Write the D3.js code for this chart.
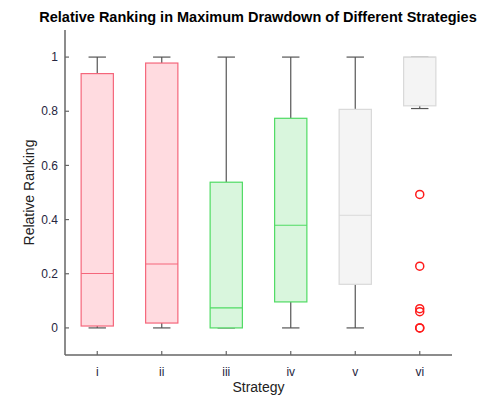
<!DOCTYPE html>
<html>
<head>
<meta charset="utf-8">
<script src="https://cdn.jsdelivr.net/npm/d3@7"></script>
<style>
  body { margin: 0; background: #fff; }
  svg { font-family: "Liberation Sans", Arial, sans-serif; }
</style>
</head>
<body>
<svg id="chart" width="499" height="399"></svg>
<script>
const strategies = ["i", "ii", "iii", "iv", "v", "vi"];
const whiskerLow = [0, 0, 0, 0, 0, 0.81];
const q1 = [0.007, 0.018, 0, 0.096, 0.161, 0.82];
const median = [0.201, 0.236, 0.074, 0.379, 0.416, 1];
const q3 = [0.939, 0.978, 0.538, 0.774, 0.807, 1];
const whiskerHigh = [1, 1, 1, 1, 1, 1];
const outliers = [[], [], [], [], [], [0.493, 0.228, 0.071, 0.06, 0, 0]];
const yTicks = [0, 0.2, 0.4, 0.6, 0.8, 1];

const palette = [
  { fill: "#ffdbe0", stroke: "#f5667b" },
  { fill: "#ffdbe0", stroke: "#f5667b" },
  { fill: "#d9f6dd", stroke: "#4fdb63" },
  { fill: "#d9f6dd", stroke: "#4fdb63" },
  { fill: "#f4f4f4", stroke: "#d9d9d9" },
  { fill: "#f4f4f4", stroke: "#d9d9d9" }
];

const svg = d3.select("#chart");
const m = { left: 65, right: 452, top: 30, bottom: 355 };

const x = d3.scaleBand().domain(strategies).range([m.left, m.right]).padding(0);
const y = d3.scaleLinear().domain([-0.1, 1.1]).range([m.bottom, m.top]);

const boxW = x.bandwidth() * 0.5;
const capW = x.bandwidth() * 0.27;

const data = strategies.map((s, i) => ({
  s, lo: whiskerLow[i], q1: q1[i], med: median[i], q3: q3[i], hi: whiskerHigh[i],
  out: outliers[i], col: palette[i]
}));

const groups = svg.append("g").selectAll(".box").data(data).enter().append("g")
  .attr("transform", d => `translate(${x(d.s) + x.bandwidth() / 2},0)`);

// whiskers
groups.append("line")
  .attr("x1", 0).attr("x2", 0)
  .attr("y1", d => y(d.hi)).attr("y2", d => y(d.q3))
  .attr("stroke", "#555").attr("stroke-width", 1.2);
groups.append("line")
  .attr("x1", 0).attr("x2", 0)
  .attr("y1", d => y(d.q1)).attr("y2", d => y(d.lo))
  .attr("stroke", "#555").attr("stroke-width", 1.2);
groups.append("line")
  .attr("x1", -capW / 2).attr("x2", capW / 2)
  .attr("y1", d => y(d.hi)).attr("y2", d => y(d.hi))
  .attr("stroke", "#555").attr("stroke-width", 1.2);
groups.append("line")
  .attr("x1", -capW / 2).attr("x2", capW / 2)
  .attr("y1", d => y(d.lo)).attr("y2", d => y(d.lo))
  .attr("stroke", "#555").attr("stroke-width", 1.2);

// box
groups.append("rect")
  .attr("x", -boxW / 2).attr("width", boxW)
  .attr("y", d => y(d.q3))
  .attr("height", d => y(d.q1) - y(d.q3))
  .attr("fill", d => d.col.fill)
  .attr("stroke", d => d.col.stroke)
  .attr("stroke-width", 1.2);

// median
groups.append("line")
  .attr("x1", -boxW / 2).attr("x2", boxW / 2)
  .attr("y1", d => y(d.med)).attr("y2", d => y(d.med))
  .attr("stroke", d => d.col.stroke).attr("stroke-width", 1.2);

// outliers
groups.selectAll(".out").data(d => d.out).enter().append("circle")
  .attr("cx", 0).attr("cy", v => y(v)).attr("r", 4)
  .attr("fill", "none").attr("stroke", "#ff1a1a").attr("stroke-width", 1.5);

// axes
const axisColor = "#666";
svg.append("line").attr("x1", m.left).attr("x2", m.left).attr("y1", m.top).attr("y2", m.bottom)
  .attr("stroke", axisColor).attr("stroke-width", 1.5);
svg.append("line").attr("x1", m.left).attr("x2", m.right).attr("y1", m.bottom).attr("y2", m.bottom)
  .attr("stroke", axisColor).attr("stroke-width", 1.5);

svg.selectAll(".ytick").data(yTicks).enter().append("line")
  .attr("x1", m.left).attr("x2", m.left + 4)
  .attr("y1", d => y(d)).attr("y2", d => y(d))
  .attr("stroke", axisColor).attr("stroke-width", 1.2);
svg.selectAll(".ylab").data(yTicks).enter().append("text")
  .attr("x", m.left - 7).attr("y", d => y(d)).attr("dy", "0.35em")
  .attr("text-anchor", "end").style("font-size", "12px").attr("fill", "#262640")
  .text(d => d3.format("~g")(d));

svg.selectAll(".xtick").data(strategies).enter().append("line")
  .attr("x1", d => x(d) + x.bandwidth() / 2).attr("x2", d => x(d) + x.bandwidth() / 2)
  .attr("y1", m.bottom).attr("y2", m.bottom - 4)
  .attr("stroke", axisColor).attr("stroke-width", 1.2);
svg.selectAll(".xlab").data(strategies).enter().append("text")
  .attr("x", d => x(d) + x.bandwidth() / 2).attr("y", 376)
  .attr("text-anchor", "middle").style("font-size", "12px").attr("fill", "#262640")
  .text(d => d);

// labels
svg.append("text")
  .attr("x", (m.left + m.right) / 2).attr("y", 392)
  .attr("text-anchor", "middle").style("font-size", "14px").attr("fill", "#222")
  .text("Strategy");
svg.append("text")
  .attr("transform", `translate(34,${y(0.5)}) rotate(-90)`)
  .attr("text-anchor", "middle").style("font-size", "14px").attr("fill", "#222")
  .text("Relative Ranking");

// title
svg.append("text")
  .attr("x", 258).attr("y", 22)
  .attr("text-anchor", "middle").style("font-size", "14.5px").style("font-weight", "bold")
  .attr("fill", "#000")
  .text("Relative Ranking in Maximum Drawdown of Different Strategies");
</script>
</body>
</html>
